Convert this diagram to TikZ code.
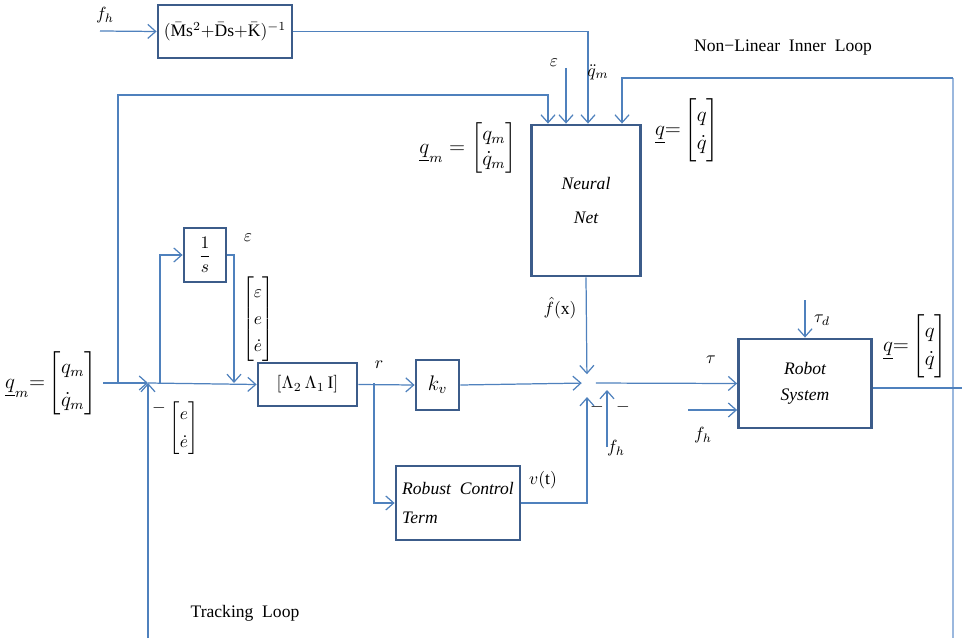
\documentclass[tikz,border=0pt]{standalone}
\usepackage{amsmath}
\usepackage{fontspec}
\setmainfont{Liberation Serif}
\definecolor{boxblue}{RGB}{60,92,138}
\definecolor{lineblue}{RGB}{79,129,189}
\definecolor{paleblue}{RGB}{155,184,222}
\usetikzlibrary{positioning,arrows.meta,calc}

\tikzset{
    block/.style={draw=boxblue, line width=1.6pt, fill=white, inner sep=2pt},
    wire/.style={draw=lineblue, line width=0.7pt},
    sig/.style={wire, -{Straight Barb[length=4.5pt,width=8pt]}},
    lbl/.style={inner sep=0pt},
}

\begin{document}
\begin{tikzpicture}[x=0.02cm, y=-0.02cm]
    \useasboundingbox (0,0) rectangle (962,638);

    % Blocks
    \node[block, minimum width=2.68cm, minimum height=1.06cm] (inv) at (225,31.5)
        {$(\bar{\mathrm{M}}\mathrm{s}^2{+}\bar{\mathrm{D}}\mathrm{s}{+}\bar{\mathrm{K}})^{-1}$};
    \node[block, minimum width=2.18cm, minimum height=3.02cm, align=center, font=\itshape] (nn) at (586,200.5)
        {Neural\\[7pt]Net};
    \node[block, minimum width=0.84cm, minimum height=1.08cm] (integ) at (205,255) {$\dfrac{1}{s}$};
    \node[block, minimum width=1.98cm, minimum height=0.86cm] (lam) at (307.5,384.5) {$[\Lambda_2\,\Lambda_1\,\mathrm{I}]$};
    \node[block, minimum width=0.86cm, minimum height=1.0cm] (kv) at (437.5,385) {\large $k_v$};
    \node[block, minimum width=2.48cm, minimum height=1.48cm, align=left, font=\itshape] (rct) at (458,503)
        {Robust\ \ Control\\[4pt]Term};
    \node[block, minimum width=2.66cm, minimum height=1.78cm, align=center, font=\itshape] (robot) at (805,383.5)
        {Robot\\[3pt]System};

    % Junctions and free ends
    \coordinate (sumA) at (148,383);
    \coordinate (sumB) at (587,383);
    \coordinate (qmout) at (103,383);
    \coordinate (tapA) at (118,383);
    \coordinate (tapB) at (160,383);
    \coordinate (tapR) at (374,383);
    \coordinate (intoLam) at (234,383);
    \coordinate (topRun) at (118,95);
    \coordinate (fhin) at (100,31);
    \coordinate (epsin) at (566,68);
    \coordinate (fbtop) at (953,78);
    \coordinate (fbbot) at (953,638);
    \coordinate (trk) at (148,638);
    \coordinate (fhB) at (607,447);
    \coordinate (fhBend) at (607,390);
    \coordinate (fhC) at (688,410);
    \coordinate (taud) at (805,300);
    \coordinate (qout) at (962,388);

    % Outer feedback line
    \draw[wire, draw=paleblue, line width=1.2pt] (fbtop) -- (fbbot);

    % Inputs of the neural net
    \draw[sig] (fhin) -- (inv.west);
    \draw[sig] (inv.east) -| ($(nn.north)+(2,0)$);
    \draw[sig] (epsin) -- ($(nn.north)+(-20,0)$);
    \draw[sig] (tapA) -- (topRun) -| ($(nn.north)+(-38,0)$);
    \draw[sig] (fbtop) -| ($(nn.north)+(36,0)$);

    % Tracking loop
    \draw[sig] (qmout) -- (sumA);
    \draw[sig] (trk) -- (sumA);
    \draw[sig] (sumA) -- (lam.west);
    \draw[sig] (tapB) |- (integ.west);
    \draw[sig] (integ.east) -| (intoLam);
    \draw[sig] (lam.east) -- (kv.west);
    \draw[sig] (tapR) |- (rct.west);
    \draw[sig, shorten >=3pt] (kv.east) -- (sumB);
    \draw[sig, shorten >=5pt] (nn.south) -- (sumB);
    \draw[sig, shorten >=8pt] (rct.east) -| (sumB);
    \draw[sig] (fhB) -- (fhBend);

    % Robot
    \draw[sig, shorten <=5pt] (sumB) -- (robot.west);
    \draw[sig] (fhC) -- (fhC -| robot.west);
    \draw[sig] (taud) -- (robot.north);
    \draw[wire] (robot.east |- qout) -- (qout);

    % Labels
    \node[lbl] at (105,15) {$f_h$};
    \node[lbl] at (554,63) {$\varepsilon$};
    \node[lbl] at (598,72) {$\ddot{q}_m$};
    \node[lbl] at (783,48) {Non−Linear\ \ Inner\ \ Loop};
    \node[lbl] at (468,148) {\large $\underline{q}_m=\begin{bmatrix}q_m\\ \dot{q}_m\end{bmatrix}$};
    \node[lbl] at (687,130) {\large \renewcommand{\arraystretch}{1.15}$\underline{q}{=}\begin{bmatrix}q\\ \dot{q}\end{bmatrix}$};
    \node[lbl, anchor=east] at (97,383) {\large \renewcommand{\arraystretch}{1.35}$\underline{q}_m{=}\begin{bmatrix}q_m\\ \dot{q}_m\end{bmatrix}$};
    \node[lbl] at (248,238) {$\varepsilon$};
    \node[lbl] at (258,319) {\renewcommand{\arraystretch}{1.3}$\begin{bmatrix}\varepsilon\\ e\\ \dot{e}\end{bmatrix}$};
    \node[lbl] at (159,408) {$-$};
    \node[lbl] at (184,428) {\renewcommand{\arraystretch}{1.3}$\begin{bmatrix}e\\ \dot{e}\end{bmatrix}$};
    \node[lbl] at (379,365) {$r$};
    \node[lbl] at (560,308) {$\hat{f}(\mathrm{x})$};
    \node[lbl] at (543,480) {$v(\mathrm{t})$};
    \node[lbl] at (597,407) {$-$};
    \node[lbl] at (623,407) {$-$};
    \node[lbl] at (616,448) {$f_h$};
    \node[lbl] at (711,360) {$\tau$};
    \node[lbl] at (703,435) {$f_h$};
    \node[lbl] at (822,320) {$\tau_d$};
    \node[lbl] at (915,346) {\large \renewcommand{\arraystretch}{1.15}$\underline{q}{=}\begin{bmatrix}q\\ \dot{q}\end{bmatrix}$};
    \node[lbl] at (245,613) {Tracking\ \ Loop};
\end{tikzpicture}
\end{document}
